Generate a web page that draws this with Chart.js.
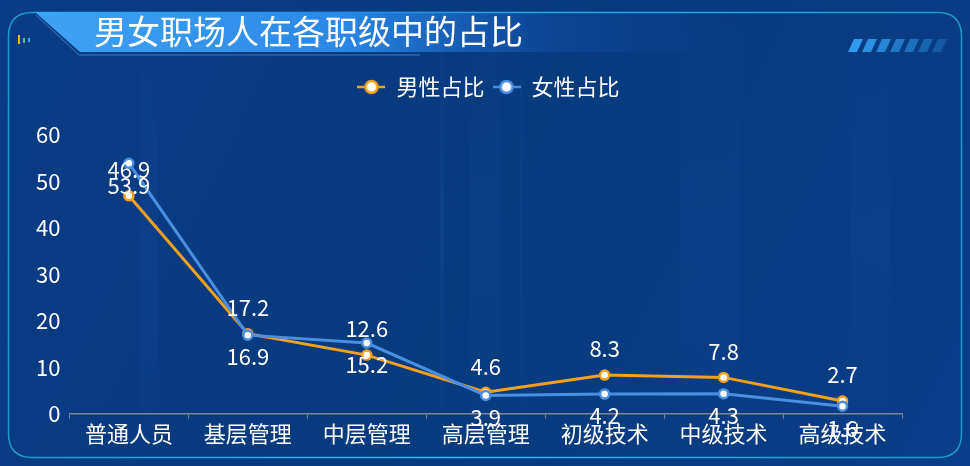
<!DOCTYPE html>
<html><head><meta charset="utf-8">
<script src="https://cdn.jsdelivr.net/npm/chart.js@4/dist/chart.umd.min.js"></script>
<style>html,body{margin:0;padding:0;background:#0a3a80;overflow:hidden}canvas{display:block}</style>
</head><body>
<canvas id="c" width="970" height="466"></canvas>
<script>
const titleText = '男女职场人在各职级中的占比';
const categories = ['普通人员','基层管理','中层管理','高层管理','初级技术','中级技术','高级技术'];
const seriesNames = ['男性占比','女性占比'];
const maleValues = [46.9, 17.2, 12.6, 4.6, 8.3, 7.8, 2.7];
const femaleValues = [53.9, 16.9, 15.2, 3.9, 4.2, 4.3, 1.6];
const yTicks = [0,10,20,30,40,50,60];

const ORANGE = '#f5a11c';
const BLUE = '#4a8fe2';
const FONT = '"Noto Sans CJK SC","Noto Sans",sans-serif';

function legendIcon(color){
  const c = document.createElement('canvas');
  c.width = 28; c.height = 16;
  const g = c.getContext('2d');
  g.strokeStyle = color; g.lineWidth = 2.5;
  g.beginPath(); g.moveTo(0,8); g.lineTo(28,8); g.stroke();
  g.beginPath(); g.arc(14,8,6,0,Math.PI*2);
  g.fillStyle = '#ffffff'; g.fill();
  g.lineWidth = 2.5; g.strokeStyle = color; g.stroke();
  return c;
}

function roundRect(ctx,x,y,w,h,r){
  ctx.beginPath();
  ctx.moveTo(x+r,y); ctx.lineTo(x+w-r,y); ctx.quadraticCurveTo(x+w,y,x+w,y+r);
  ctx.lineTo(x+w,y+h-r); ctx.quadraticCurveTo(x+w,y+h,x+w-r,y+h);
  ctx.lineTo(x+r,y+h); ctx.quadraticCurveTo(x,y+h,x,y+h-r);
  ctx.lineTo(x,y+r); ctx.quadraticCurveTo(x,y,x+r,y); ctx.closePath();
}

const decoPlugin = {
  id:'deco',
  beforeDraw(chart){
    const ctx = chart.ctx, W = chart.width, H = chart.height;
    ctx.save();
    let bg = ctx.createLinearGradient(0,0,W,H);
    bg.addColorStop(0,'#0a3b86'); bg.addColorStop(0.5,'#083a7e'); bg.addColorStop(1,'#0a3d88');
    ctx.fillStyle = bg; ctx.fillRect(0,0,W,H);
    [[140,18,0.05],[440,4,0.07],[470,30,0.04],[520,3,0.05],[680,60,0.03],[850,40,0.03]].forEach(s=>{
      let g = ctx.createLinearGradient(0,0,0,H);
      g.addColorStop(0,'rgba(80,150,255,0)'); g.addColorStop(0.5,'rgba(80,150,255,'+s[2]+')'); g.addColorStop(1,'rgba(80,150,255,0)');
      ctx.fillStyle = g; ctx.fillRect(s[0],0,s[1],H);
    });
    let fg = ctx.createLinearGradient(0,0,W,0);
    fg.addColorStop(0,'#1b98cf'); fg.addColorStop(0.45,'#38b8f0'); fg.addColorStop(0.7,'#28a8e0'); fg.addColorStop(1,'#1b98cf');
    ctx.strokeStyle = fg; ctx.lineWidth = 1.5;
    roundRect(ctx,8.5,12.5,953,445,24); ctx.stroke();
    let tg = ctx.createLinearGradient(35,0,720,0);
    tg.addColorStop(0,'#3fa3f5'); tg.addColorStop(0.45,'#2a88e6'); tg.addColorStop(0.75,'rgba(30,110,220,0.2)'); tg.addColorStop(1,'rgba(30,110,220,0)');
    ctx.fillStyle = tg;
    ctx.beginPath(); ctx.moveTo(35,12); ctx.lineTo(720,12); ctx.lineTo(720,52); ctx.lineTo(80,52); ctx.closePath(); ctx.fill();
    ctx.strokeStyle = 'rgba(90,170,250,0.6)'; ctx.lineWidth = 1;
    ctx.beginPath(); ctx.moveTo(36,15); ctx.lineTo(79,55); ctx.lineTo(420,55); ctx.stroke();
    ctx.fillStyle = '#f0b429'; ctx.fillRect(18,35,2,9);
    ctx.fillStyle = '#3ecf6a'; ctx.fillRect(23,38,2,5);
    ctx.fillStyle = '#3ba7f5'; ctx.fillRect(28,38,2,4);
    for(let i=0;i<7;i++){
      const x = 848 + i*14;
      ctx.fillStyle = 'rgba(50,160,245,'+(0.95 - i*0.11)+')';
      ctx.beginPath(); ctx.moveTo(x+6,39); ctx.lineTo(x+15,39); ctx.lineTo(x+9,52); ctx.lineTo(x,52); ctx.closePath(); ctx.fill();
    }
    ctx.fillStyle = '#ffffff'; ctx.font = '33px '+FONT; ctx.textBaseline = 'middle'; ctx.textAlign = 'left';
    ctx.fillText(titleText, 94, 31);
    ctx.restore();
  }
};

const labelPlugin = {
  id:'vlabels',
  afterDatasetsDraw(chart){
    const ctx = chart.ctx;
    ctx.save();
    ctx.font = '22px '+FONT; ctx.fillStyle = '#ffffff'; ctx.textAlign = 'center'; ctx.textBaseline = 'middle';
    chart.data.datasets.forEach((ds,di)=>{
      const meta = chart.getDatasetMeta(di);
      meta.data.forEach((pt,i)=>{
        const off = di === 0 ? -26 : 22;
        ctx.fillText(String(ds.data[i]), pt.x, pt.y + off);
      });
    });
    ctx.restore();
  }
};

const legendSpacer = {
  id:'legendSpacer',
  beforeInit(chart){
    const lg = chart.legend;
    const fit = lg.fit;
    lg.fit = function(){ fit.bind(lg)(); this.height += 27; };
    const draw = lg.draw;
    lg.draw = function(){
      const ctx = chart.ctx;
      ctx.save(); ctx.translate(24,0);
      draw.apply(lg, arguments);
      ctx.restore();
    };
  }
};

new Chart(document.getElementById('c'), {
  type:'line',
  data:{
    labels: categories,
    datasets:[
      {label: seriesNames[0], data: maleValues, borderColor: ORANGE, backgroundColor: ORANGE, borderWidth: 3,
       pointRadius: 4.5, pointBorderWidth: 2.5, pointBackgroundColor:'#ffffff', pointBorderColor: ORANGE, tension: 0, order: 2,
       pointStyle: 'circle'},
      {label: seriesNames[1], data: femaleValues, borderColor: BLUE, backgroundColor: BLUE, borderWidth: 3,
       pointRadius: 4.5, pointBorderWidth: 2.5, pointBackgroundColor:'#ffffff', pointBorderColor: BLUE, tension: 0, order: 1,
       pointStyle: 'circle'}
    ]
  },
  options:{
    responsive:false, animation:false, devicePixelRatio:1,
    layout:{padding:{top:68,left:27,right:68,bottom:17}},
    plugins:{
      tooltip:{enabled:false},
      legend:{
        display:true, position:'top',
        labels:{
          color:'#ffffff', font:{size:22, family:FONT}, usePointStyle:true, pointStyleWidth:28, boxHeight:16, padding:8,
          generateLabels(chart){
            return chart.data.datasets.map((ds,i)=>({
              text: ds.label, fillStyle: ds.borderColor, strokeStyle: ds.borderColor, fontColor:'#ffffff',
              pointStyle: legendIcon(ds.borderColor), datasetIndex:i, hidden:false, lineWidth:0
            }));
          }
        }
      }
    },
    scales:{
      x:{
        offset:true,
        grid:{display:true, drawOnChartArea:false, drawTicks:true, tickLength:5, color:'#7d8796', offset:true},
        border:{display:true, color:'#7d8796', width:1.5},
        ticks:{color:'#ffffff', font:{size:22, family:FONT}, padding:2, maxRotation:0, autoSkip:false}
      },
      y:{
        min:0, max:60,
        afterBuildTicks(axis){ axis.ticks = yTicks.map(v=>({value:v})); },
        grid:{display:false, drawTicks:false},
        border:{display:false},
        ticks:{color:'#ffffff', font:{size:22, family:FONT}, padding:9}
      }
    }
  },
  plugins:[decoPlugin, labelPlugin, legendSpacer]
});
</script>
</body></html>
